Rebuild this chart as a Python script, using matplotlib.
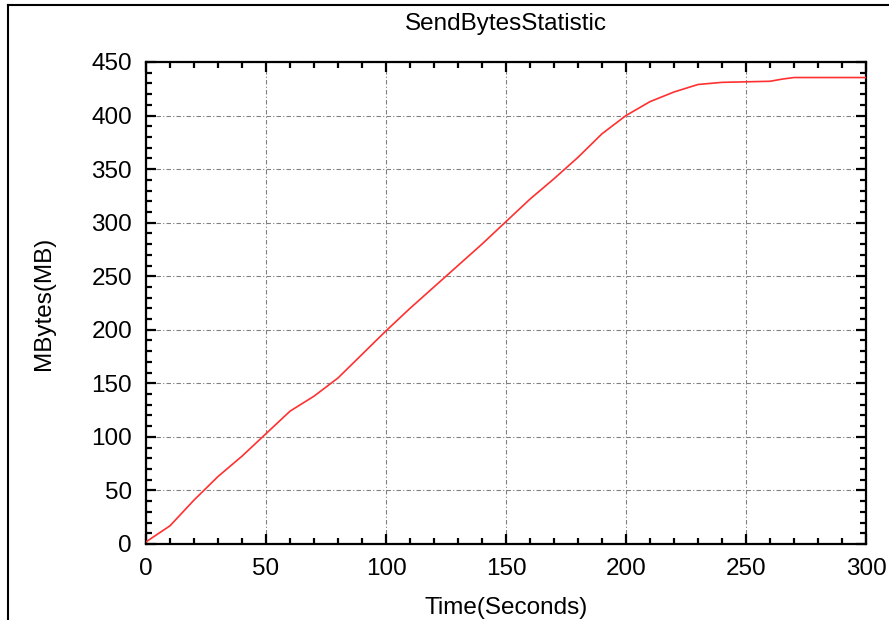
import matplotlib
matplotlib.use("Agg")
import matplotlib.pyplot as plt
from matplotlib.lines import Line2D
from matplotlib.ticker import MultipleLocator

plt.rcParams['font.family'] = ['Liberation Sans', 'DejaVu Sans']

time_s = [0, 10, 20, 30, 40, 50, 60, 70, 80, 90, 100, 110, 120, 130, 140,
          150, 160, 170, 180, 190, 200, 210, 220, 230, 240, 250, 260, 265,
          270, 280, 290, 300]
mbytes = [2, 17, 41, 63, 82, 103, 124, 138, 155, 177, 199, 220, 240, 260, 280,
          301, 322, 341, 361, 383, 400, 413, 422, 429, 431, 431.5, 432, 434,
          435.5, 435.5, 435.5, 435.5]

title = "SendBytesStatistic"
xlabel = "Time(Seconds)"
ylabel = "MBytes(MB)"

fig = plt.figure(figsize=(8.89, 6.2), dpi=100)
ax = fig.add_axes([146/889, 76/620, 720/889, 482/620])

ax.plot(time_s, mbytes, color='#ff3030', lw=1.2, zorder=3)

ax.set_xlim(0, 300)
ax.set_ylim(0, 450)
ax.xaxis.set_major_locator(MultipleLocator(50))
ax.xaxis.set_minor_locator(MultipleLocator(10))
ax.yaxis.set_major_locator(MultipleLocator(50))
ax.yaxis.set_minor_locator(MultipleLocator(10))

ax.grid(True, which='major', color='#808080', lw=0.8, linestyle=(0, (4, 2, 1, 2)))

for s in ax.spines.values():
    s.set_linewidth(1.6)
    s.set_color('black')

ax.tick_params(which='both', direction='in', top=True, right=True,
               labelsize=17.5, width=1.6, pad=10)
ax.tick_params(which='major', length=7)
ax.tick_params(which='minor', length=4)

ax.set_title(title, fontsize=17.5, pad=23)
ax.set_xlabel(xlabel, fontsize=17.5, labelpad=12)
ax.set_ylabel(ylabel, fontsize=17.5, labelpad=26)

# outer frame (left and top edges)
fig.add_artist(Line2D([8/889, 8/889], [0, 1 - 5/620], transform=fig.transFigure,
                      color='black', lw=1.5))
fig.add_artist(Line2D([8/889, 1], [1 - 5/620, 1 - 5/620], transform=fig.transFigure,
                      color='black', lw=1.5))

fig.savefig("out.png", dpi=100)
